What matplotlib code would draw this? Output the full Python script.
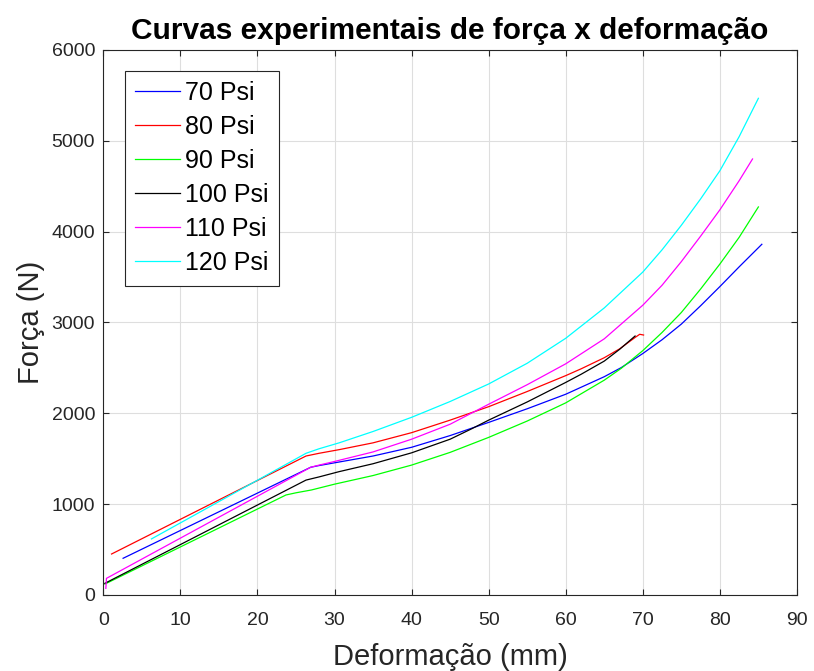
import numpy as np
import matplotlib.pyplot as plt

plt.rcParams['font.family'] = ['Liberation Sans', 'DejaVu Sans']

# deformation (mm) / force (N) for each pressure
x70 = [2.56, 26.9, 28, 30, 35, 40, 45, 50, 55, 60, 65, 67.2, 70, 72.5, 75, 77.5, 80, 82.5, 85.45]
y70 = [404, 1406, 1425, 1455, 1530, 1626, 1755, 1900, 2050, 2210, 2403, 2503, 2658, 2810, 2982, 3184, 3395, 3612, 3861]

x80 = [1.06, 26.3, 28, 30.6, 35, 40, 45, 50, 55, 60, 62, 65, 67, 69, 69.6, 70.1]
y80 = [451, 1530, 1560, 1600, 1675, 1787, 1925, 2073, 2240, 2415, 2490, 2612, 2710, 2835, 2870, 2862]

x90 = [0.2, 23.7, 25, 27, 30, 35, 40, 45, 50, 55, 60, 65, 67.2, 70, 72.5, 75, 77.5, 80, 82.5, 85.0]
y90 = [120, 1101, 1125, 1156, 1220, 1315, 1430, 1570, 1735, 1915, 2115, 2365, 2495, 2690, 2890, 3110, 3368, 3643, 3937, 4272]

x100 = [0.19, 26.3, 28, 30.6, 35, 40, 45, 47.8, 50, 55, 60, 62, 65, 67, 69]
y100 = [128, 1265, 1300, 1358, 1445, 1565, 1715, 1830, 1925, 2125, 2340, 2430, 2575, 2705, 2851]

x110 = [0.32, 0.4, 26.9, 28, 30, 35, 40, 45, 47.5, 50, 55, 60, 65, 70, 72.5, 75, 77.5, 80, 82.5, 84.24]
y110 = [73, 183, 1406, 1430, 1470, 1575, 1715, 1880, 1990, 2100, 2315, 2545, 2820, 3190, 3410, 3670, 3950, 4240, 4560, 4800]

x120 = [6.24, 26.3, 28, 30.6, 35, 40, 45, 50, 55, 60, 65, 70, 72.5, 75, 77.5, 80, 82.5, 85.0]
y120 = [617, 1560, 1610, 1675, 1800, 1956, 2130, 2323, 2551, 2826, 3160, 3555, 3800, 4070, 4360, 4670, 5045, 5468]

labels = ['70 Psi', '80 Psi', '90 Psi', '100 Psi', '110 Psi', '120 Psi']

fig = plt.figure(figsize=(8.14, 6.71), dpi=100)
ax = fig.add_axes([0.127, 0.1133, 0.852, 0.8122])

ax.plot(x70, y70, color=(0, 0, 1), lw=0.9)
ax.plot(x80, y80, color=(1, 0, 0), lw=0.9)
ax.plot(x90, y90, color=(0, 1, 0), lw=0.9)
ax.plot(x100, y100, color=(0, 0, 0), lw=0.9)
ax.plot(x110, y110, color=(1, 0, 1), lw=0.9)
ax.plot(x120, y120, color=(0, 1, 1), lw=0.9)

ax.set_xlim(0, 90)
ax.set_ylim(0, 6000)
ax.set_xticks(np.arange(0, 91, 10))
ax.set_yticks(np.arange(0, 6001, 1000))
ax.grid(True, color='#dedede', lw=0.8)
ax.set_axisbelow(True)
ax.tick_params(direction='in', top=True, right=True, length=4, width=0.8,
               color='#262626', labelsize=14, labelcolor='#262626', pad=6)
ax.tick_params(axis='x', pad=12)
for s in ax.spines.values():
    s.set_color('#262626')
    s.set_linewidth(0.8)

ax.set_title('Curvas experimentais de força x deformação', fontsize=21.5,
             fontweight='bold', pad=8)
ax.set_xlabel('Deformação (mm)', fontsize=21, color='#262626', labelpad=10)
ax.set_ylabel('Força (N)', fontsize=21, color='#262626', labelpad=4.5)

leg = ax.legend(labels, loc='upper left', bbox_to_anchor=(0.031, 0.962),
                borderaxespad=0, fontsize=18, handlelength=1.8, handletextpad=0.2,
                labelspacing=0.4, fancybox=False, framealpha=1,
                edgecolor='#262626', borderpad=0.42)
leg.get_frame().set_linewidth(0.8)

plt.savefig('out.png', dpi=100)
